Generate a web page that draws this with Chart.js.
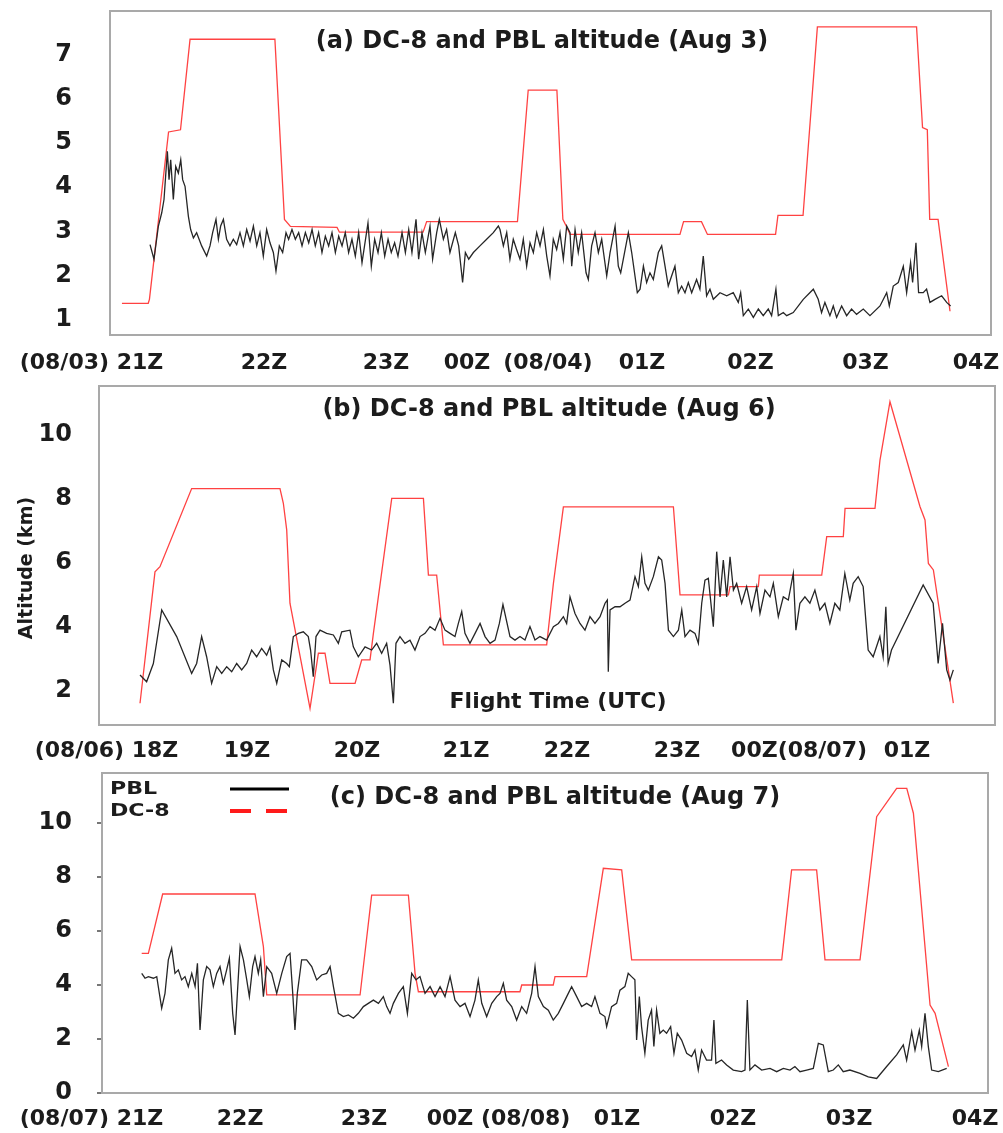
<!DOCTYPE html>
<html><head><meta charset="utf-8">
<script src="https://cdn.jsdelivr.net/npm/chart.js@4.4.0/dist/chart.umd.min.js"></script>
<style>
html,body{margin:0;padding:0;background:#fff;width:1003px;height:1133px;overflow:hidden}
.panel{position:absolute;left:0;width:1003px}
</style></head><body>
<div class="panel" style="top:0;height:380px"><canvas id="ca"></canvas></div>
<div class="panel" style="top:380px;height:385px"><canvas id="cb"></canvas></div>
<div class="panel" style="top:765px;height:368px"><canvas id="cc"></canvas></div>
<script>
// ---------- Panel (a): Aug 3, time in hours after 21Z ----------
const xLabelsA = ["(08/03) 21Z","22Z","23Z","00Z","(08/04)","01Z","02Z","03Z","04Z"];
const xLabelPosA = [-0.515,0.929,1.950,2.628,3.305,4.092,5.000,5.962,6.887];
const yTicksA = [1,2,3,4,5,6,7];
const dc8TimeA = [-0.26,-0.04,-0.03,0.13,0.23,0.31,1.02,1.10,1.15,1.54,1.56,2.26,2.29,3.05,3.14,3.38,3.43,3.46,3.49,4.41,4.44,4.59,4.64,5.21,5.23,5.44,5.56,6.39,6.44,6.48,6.50,6.57,6.67];
const dc8AltA = [1.37,1.37,1.46,5.25,5.30,7.35,7.35,3.27,3.11,3.09,2.98,2.98,3.22,3.22,6.20,6.20,3.27,3.11,2.93,2.93,3.22,3.22,2.93,2.93,3.36,3.36,7.63,7.63,5.35,5.30,3.27,3.27,1.19];
const pblTimeA = [
-0.025,0.008,0.045,0.073,0.092,0.120,0.134,0.148,0.170,0.190,
0.212,0.232,0.248,0.268,0.296,0.315,0.338,0.365,0.407,0.449,
0.477,0.499,0.527,0.547,0.566,0.589,0.616,0.644,0.672,0.700,
0.728,0.756,0.784,0.812,0.840,0.868,0.895,0.923,0.951,0.979,
1.007,1.029,1.057,1.085,1.113,1.135,1.163,1.191,1.219,1.247,
1.275,1.303,1.331,1.358,1.386,1.414,1.442,1.470,1.498,1.526,
1.554,1.582,1.609,1.637,1.665,1.693,1.721,1.749,1.799,1.827,
1.855,1.883,1.911,1.939,1.967,1.994,2.022,2.050,2.084,2.112,
2.140,2.167,2.201,2.223,2.251,2.279,2.318,2.340,2.374,2.396,
2.430,2.457,2.485,2.530,2.558,2.591,2.614,2.642,2.681,2.736,
2.792,2.848,2.890,
2.904,2.932,2.960,2.987,3.015,3.043,3.071,3.099,3.127,3.155,
3.183,3.211,3.239,3.267,3.295,3.322,3.350,3.378,3.406,3.434,
3.462,3.490,3.504,3.532,3.559,3.587,3.624,3.643,3.671,3.699,
3.727,3.755,3.797,3.825,3.867,3.894,3.914,3.978,4.006,4.053,
4.076,4.104,4.131,4.159,4.187,4.229,4.257,4.285,4.312,4.340,
4.368,4.396,4.424,4.452,4.480,4.508,4.549,4.577,4.605,4.633,
4.661,4.689,4.745,4.801,4.856,4.898,4.918,4.940,4.982,5.024,
5.066,5.107,5.149,5.177,5.213,5.233,5.275,5.303,5.358,5.442,
5.526,5.567,5.595,5.623,5.665,5.693,5.721,5.763,5.805,5.846,
5.888,5.944,6.000,6.084,6.140,6.162,6.195,6.237,6.279,6.307,
6.340,6.357,6.385,6.407,6.446,6.474,6.502,6.544,6.600,6.642,
6.675];
const pblAltA = [
2.70,2.37,3.12,3.42,3.72,4.81,4.17,4.62,3.72,4.47,
4.32,4.62,4.17,4.02,3.34,3.04,2.85,2.97,2.67,2.44,
2.67,2.97,3.27,2.82,3.12,3.27,2.82,2.67,2.82,2.70,
2.97,2.67,3.04,2.78,3.12,2.67,2.97,2.44,3.04,2.74,
2.52,2.10,2.67,2.52,2.97,2.82,3.04,2.82,2.97,2.67,
2.97,2.74,3.04,2.67,2.97,2.52,2.89,2.67,2.97,2.52,
2.89,2.67,2.97,2.52,2.82,2.44,2.97,2.29,3.19,2.21,
2.82,2.52,2.97,2.44,2.82,2.52,2.74,2.44,2.97,2.52,
3.04,2.52,3.27,2.37,2.97,2.52,3.12,2.37,2.97,3.27,
2.82,3.04,2.52,2.97,2.67,1.84,2.52,2.37,2.52,2.67,
2.82,2.97,3.12,
3.04,2.67,2.97,2.37,2.82,2.59,2.37,2.82,2.21,2.74,
2.52,2.97,2.67,3.04,2.44,1.99,2.82,2.59,2.97,2.37,
3.12,2.97,2.21,3.04,2.52,2.97,2.06,1.91,2.67,2.97,
2.52,2.82,1.99,2.52,3.12,2.21,2.06,2.97,2.52,1.61,
1.69,2.21,1.84,2.06,1.91,2.52,2.67,2.21,1.76,1.99,
2.21,1.61,1.76,1.61,1.84,1.61,1.91,1.69,2.44,1.54,
1.69,1.46,1.61,1.54,1.61,1.39,1.61,1.09,1.24,1.05,
1.24,1.09,1.24,1.09,1.69,1.09,1.16,1.09,1.16,1.46,
1.69,1.46,1.16,1.39,1.09,1.31,1.05,1.31,1.09,1.24,
1.12,1.24,1.09,1.31,1.61,1.31,1.76,1.84,2.21,1.61,
2.29,1.84,2.74,1.61,1.61,1.69,1.39,1.46,1.54,1.39,
1.31];

// ---------- Panel (b): Aug 6, time in hours after 18Z ----------
const xLabelsB = ["(08/06) 18Z","19Z","20Z","21Z","22Z","23Z","00Z(08/07)","01Z"];
const xLabelPosB = [-0.309,0.986,2.000,3.005,3.935,4.949,6.074,7.069];
const yTicksB = [2,4,6,8,10];
const dc8TimeB = [0,0.138,0.184,0.476,1.290,1.321,1.352,1.382,1.567,1.644,1.705,1.751,1.982,2.043,2.120,2.151,2.320,2.612,2.658,2.734,2.796,3.318,3.748,3.810,3.902,4.916,4.977,5.423,5.438,5.699,5.708,6.283,6.329,6.482,6.498,6.774,6.820,6.912,7.189,7.235,7.266,7.312,7.496];
const dc8AltB = [1.62,5.72,5.88,8.32,8.32,7.86,7.03,4.74,1.46,3.18,3.18,2.24,2.24,2.97,2.97,3.80,8.01,8.01,5.62,5.62,3.44,3.44,3.44,5.36,7.75,7.75,5.00,5.00,5.26,5.26,5.62,5.62,6.82,6.82,7.70,7.70,9.21,11.03,7.75,7.34,5.98,5.78,1.62];
const pblTimeB = [
0,0.061,0.123,0.200,0.338,0.476,0.522,0.568,0.614,0.660,
0.707,0.753,0.799,0.845,0.891,0.937,0.983,1.029,1.075,1.121,
1.167,1.198,1.229,1.260,1.306,1.352,1.376,1.413,1.459,1.505,
1.551,1.572,1.597,1.622,1.659,1.720,1.782,1.828,1.859,1.935,
1.966,2.012,2.074,2.135,2.181,2.227,2.273,2.304,2.335,2.359,
2.396,2.442,2.488,2.534,2.581,2.627,2.673,2.719,2.765,2.811,
2.857,2.903,2.934,2.965,2.995,3.041,3.088,3.134,3.180,3.226,
3.272,3.312,3.345,3.410,3.456,3.502,3.548,3.594,3.640,3.686,
3.748,3.810,3.856,3.902,3.932,3.963,4.009,4.055,4.101,4.147,
4.193,4.240,4.286,4.307,4.316,4.332,4.378,4.424,4.470,4.516,
4.562,4.593,4.624,4.654,4.685,4.731,4.778,4.808,4.839,4.870,
4.916,4.962,4.993,5.023,5.069,5.115,5.146,5.177,5.207,5.238,
5.284,5.315,5.346,5.376,5.407,5.438,5.469,5.499,5.545,5.591,
5.637,5.684,5.714,5.760,5.806,5.837,5.883,5.929,5.975,6.021,
6.045,6.082,6.128,6.174,6.220,6.266,6.312,6.358,6.404,6.450,
6.496,6.542,6.573,6.619,6.665,6.711,6.757,6.819,6.849,6.874,
6.895,6.926,7.218,7.310,7.356,7.396,7.435,7.465,7.496];
const pblAltB = [
2.50,2.29,2.86,4.53,3.70,2.55,2.86,3.70,3.07,2.24,
2.76,2.55,2.76,2.60,2.86,2.66,2.86,3.28,3.07,3.33,
3.12,3.38,2.66,2.24,2.97,2.86,2.76,3.70,3.80,3.85,
3.70,3.28,2.45,3.70,3.90,3.80,3.75,3.49,3.85,3.90,
3.38,3.07,3.38,3.28,3.49,3.18,3.49,2.81,1.62,3.49,
3.70,3.49,3.59,3.28,3.70,3.80,4.01,3.90,4.27,3.90,
3.80,3.70,4.11,4.48,3.80,3.49,3.80,4.11,3.70,3.49,
3.59,4.11,4.70,3.70,3.59,3.70,3.59,4.01,3.59,3.70,
3.59,4.01,4.11,4.32,4.11,4.94,4.42,4.11,3.90,4.32,
4.11,4.32,4.74,4.84,2.60,4.53,4.63,4.63,4.74,4.84,
5.57,5.26,6.19,5.36,5.15,5.57,6.19,6.09,5.36,3.90,
3.70,3.90,4.53,3.70,3.90,3.80,3.49,4.74,5.46,5.52,
4.01,6.35,4.94,6.09,4.94,6.19,5.15,5.36,4.74,5.26,
4.53,5.26,4.42,5.15,4.94,5.36,4.32,4.94,4.84,5.67,
3.90,4.74,4.94,4.74,5.15,4.53,4.74,4.11,4.74,4.53,
5.67,4.84,5.36,5.57,5.26,3.28,3.07,3.70,3.07,4.63,
2.86,3.28,5.31,4.74,2.86,4.11,2.66,2.34,2.66];

// ---------- Panel (c): Aug 7, time in hours after 21Z ----------
const xLabelsC = ["(08/07) 21Z","22Z","23Z","00Z (08/08)","01Z","02Z","03Z","04Z"];
const xLabelPosC = [-0.207,0.998,2.003,3.094,4.055,4.996,5.937,6.959];
const yTicksC = [0,2,4,6,8,10];
const dc8TimeC = [0.200,0.254,0.370,1.119,1.187,1.214,1.971,2.065,2.363,2.417,2.444,3.268,3.282,3.538,3.552,3.809,3.944,4.093,4.174,5.391,5.471,5.674,5.742,6.026,6.161,6.323,6.405,6.459,6.594,6.635,6.743];
const dc8AltC = [5.17,5.17,7.37,7.37,5.42,3.63,3.63,7.33,7.33,4.43,3.75,3.75,4.00,4.00,4.31,4.31,8.32,8.26,4.93,4.93,8.26,8.26,4.93,4.93,10.23,11.28,11.28,10.36,3.26,2.95,0.98];
const pblTimeC = [
0.200,0.227,0.254,0.295,0.322,0.362,0.389,0.416,0.443,0.470,
0.497,0.524,0.551,0.578,0.606,0.633,0.652,0.673,0.700,0.727,
0.754,0.781,0.808,0.835,0.862,0.889,0.911,0.938,0.957,0.976,
0.998,1.025,1.052,1.073,1.100,1.119,1.146,1.165,1.187,1.214,
1.254,1.295,1.336,1.376,1.403,1.425,1.443,1.462,1.497,1.538,
1.579,1.619,1.660,1.700,1.728,1.755,1.795,1.836,1.876,1.917,
1.957,1.998,2.038,2.079,2.120,2.160,2.187,2.214,2.241,2.282,
2.322,2.355,2.390,2.425,2.457,2.498,2.539,2.579,2.620,2.660,
2.701,2.741,2.782,2.822,2.863,2.903,2.930,2.958,2.998,3.039,
3.079,3.106,3.133,3.160,3.201,3.241,3.282,3.322,3.363,3.390,
3.417,3.458,3.498,3.538,3.579,3.620,3.660,3.687,3.728,3.768,
3.809,3.849,3.876,3.917,3.957,3.971,4.011,4.052,4.079,4.119,
4.146,4.173,4.200,4.214,4.236,4.254,4.281,4.308,4.335,4.354,
4.376,4.403,4.430,4.457,4.490,4.517,4.544,4.579,4.620,4.660,
4.687,4.714,4.741,4.781,4.822,4.841,4.857,4.903,4.944,4.998,
5.065,5.093,5.112,5.133,5.174,5.228,5.296,5.350,5.404,5.458,
5.498,5.539,5.593,5.647,5.688,5.728,5.769,5.809,5.850,5.890,
5.944,6.026,6.093,6.161,6.242,6.323,6.377,6.404,6.445,6.472,
6.507,6.526,6.553,6.580,6.607,6.661,6.729];
const pblAltC = [
4.43,4.25,4.31,4.25,4.31,3.14,3.69,4.93,5.36,4.43,
4.56,4.19,4.31,3.94,4.43,3.94,4.80,2.33,4.19,4.68,
4.56,3.94,4.43,4.68,4.06,4.56,4.99,2.95,2.15,3.69,
5.42,4.93,4.19,3.57,4.68,5.05,4.43,4.93,3.57,4.68,
4.43,3.69,4.43,5.05,5.17,3.69,2.33,3.69,4.93,4.93,
4.68,4.19,4.37,4.43,4.68,3.94,2.95,2.83,2.89,2.77,
2.95,3.20,3.32,3.44,3.32,3.57,3.20,2.95,3.32,3.69,
3.94,2.95,4.43,4.19,4.31,3.69,3.94,3.57,3.94,3.57,
4.31,3.44,3.20,3.32,2.83,3.44,4.19,3.32,2.83,3.32,
3.57,3.69,4.06,3.44,3.20,2.70,3.20,2.95,3.69,4.68,
3.57,3.20,3.07,2.70,2.95,3.32,3.69,3.94,3.57,3.20,
3.32,3.20,3.57,2.95,2.83,2.46,3.20,3.32,3.81,3.94,
4.43,4.31,4.19,1.96,3.57,2.46,1.47,2.70,3.07,1.72,
3.07,2.21,2.33,2.21,2.46,1.47,2.21,1.96,1.47,1.35,
1.59,0.85,1.59,1.22,1.22,2.70,1.10,1.22,1.04,0.85,
0.79,0.85,3.44,0.85,1.04,0.85,0.91,0.79,0.91,0.85,
0.98,0.79,0.85,0.91,1.84,1.78,0.79,0.85,1.04,0.79,
0.85,0.73,0.60,0.54,0.98,1.41,1.78,1.22,2.27,1.59,
2.33,1.72,2.95,1.72,0.85,0.79,0.91];

// ---------- drawing ----------
const FONT = "'DejaVu Sans', 'Liberation Sans', sans-serif";
const RED = 'rgba(255,45,45,0.9)';
const BLACK = '#262626';
const pts = (t, v) => t.map((x, i) => ({x: x, y: v[i]}));

const decor = {
  id: 'decor',
  afterDatasetsDraw(chart, args, o) {
    const ctx = chart.ctx, a = chart.chartArea;
    ctx.save();
    ctx.strokeStyle = '#a9a9a9';
    ctx.lineWidth = 2;
    ctx.strokeRect(a.left, a.top, a.right - a.left, a.bottom - a.top);
    ctx.fillStyle = '#1c1c1c';
    ctx.textAlign = 'center';
    ctx.textBaseline = 'middle';
    ctx.font = 'bold 24px ' + FONT;
    ctx.fillText(o.title, o.titleX, o.titleY);
    if (o.xTitle) {
      ctx.font = 'bold 22px ' + FONT;
      ctx.fillText(o.xTitle, o.xTitleX, o.xTitleY);
    }
    if (o.yTitle) {
      ctx.save();
      ctx.translate(o.yTitleX, o.yTitleY);
      ctx.rotate(-Math.PI / 2);
      ctx.font = 'bold 19px ' + FONT;
      ctx.fillText(o.yTitle, 0, 0);
      ctx.restore();
    }
    if (o.legend) {
      const ds = chart.data.datasets;
      ctx.textAlign = 'left';
      ctx.font = 'bold 17px ' + FONT;
      const rows = [{ds: ds[1], y: 25, w: 3, dash: []}, {ds: ds[0], y: 47, w: 4, dash: [21, 15]}];
      rows.forEach(r => {
        ctx.save();
        ctx.translate(110, r.y);
        ctx.scale(1.3, 1);
        ctx.fillStyle = '#1c1c1c';
        ctx.fillText(r.ds.label, 0, 0);
        ctx.restore();
        ctx.beginPath();
        ctx.setLineDash(r.dash);
        ctx.strokeStyle = r.ds.label === 'PBL' ? '#000' : '#ff1a1a';
        ctx.lineWidth = r.w;
        ctx.moveTo(230, r.y - 1);
        ctx.lineTo(289, r.y - 1);
        ctx.stroke();
        ctx.setLineDash([]);
      });
    }
    ctx.restore();
  }
};

function panel(id, p) {
  return new Chart(document.getElementById(id), {
    type: 'line',
    data: {datasets: [
      {label: 'DC-8', data: pts(p.dc8T, p.dc8A), borderColor: RED, borderWidth: 1.3, pointRadius: 0, tension: 0, fill: false, order: 2},
      {label: 'PBL', data: pts(p.pblT, p.pblA), borderColor: BLACK, borderWidth: 1.3, pointRadius: 0, tension: 0, fill: false, order: 1}
    ]},
    options: {
      animation: false, responsive: true, maintainAspectRatio: false,
      layout: {padding: p.pad},
      plugins: {legend: {display: false}, tooltip: {enabled: false}, decor: p.decor},
      scales: {
        x: {
          type: 'linear', min: p.xMin, max: p.xMax,
          grid: {display: false, drawTicks: false}, border: {display: false},
          afterFit: s => { s.height = p.xH; s.paddingLeft = 0; s.paddingRight = 0; },
          afterBuildTicks: s => { s.ticks = p.xPos.map(v => ({value: v})); },
          ticks: {autoSkip: false, maxRotation: 0, minRotation: 0, padding: p.xPad, color: '#1c1c1c',
                  font: {family: FONT, size: 22, weight: 'bold'},
                  callback: (v, i) => p.xLabels[i]}
        },
        y: {
          type: 'linear', min: p.yMin, max: p.yMax,
          grid: p.yGrid, border: {display: false},
          afterFit: s => { s.width = p.yW; s.paddingTop = 0; s.paddingBottom = 0; },
          afterBuildTicks: s => { s.ticks = p.yTicks.map(v => ({value: v})); },
          ticks: {padding: p.yPad, color: '#1c1c1c', font: {family: FONT, size: 24, weight: 'bold'},
                  callback: v => String(v)}
        }
      }
    },
    plugins: [decor]
  });
}

panel('ca', {
  dc8T: dc8TimeA, dc8A: dc8AltA, pblT: pblTimeA, pblA: pblAltA,
  xMin: -0.36, xMax: 7.013, yMin: 0.652, yMax: 7.99,
  xPos: xLabelPosA, xLabels: xLabelsA, yTicks: yTicksA,
  pad: {left: 0, top: 11, right: 12, bottom: 0}, xH: 45, yW: 110, xPad: 15, yPad: 38,
  yGrid: {display: false, drawTicks: false},
  decor: {title: '(a) DC-8 and PBL altitude (Aug 3)', titleX: 542, titleY: 42}
});
panel('cb', {
  dc8T: dc8TimeB, dc8A: dc8AltB, pblT: pblTimeB, pblA: pblAltB,
  xMin: -0.378, xMax: 7.880, yMin: 0.94, yMax: 11.52,
  xPos: xLabelPosB, xLabels: xLabelsB, yTicks: yTicksB,
  pad: {left: 0, top: 6, right: 8, bottom: 0}, xH: 40, yW: 99, xPad: 13, yPad: 27,
  yGrid: {display: false, drawTicks: false},
  decor: {title: '(b) DC-8 and PBL altitude (Aug 6)', titleX: 549, titleY: 30,
          xTitle: 'Flight Time (UTC)', xTitleX: 558, xTitleY: 322,
          yTitle: 'Altitude (km)', yTitleX: 27, yTitleY: 188}
});
panel('cc', {
  dc8T: dc8TimeC, dc8A: dc8AltC, pblT: pblTimeC, pblA: pblAltC,
  xMin: -0.122, xMax: 7.064, yMin: 0, yMax: 11.85,
  xPos: xLabelPosC, xLabels: xLabelsC, yTicks: yTicksC,
  pad: {left: 0, top: 8, right: 15, bottom: 0}, xH: 40, yW: 102, xPad: 13, yPad: 25,
  yGrid: {display: true, drawOnChartArea: false, drawTicks: true, tickLength: 5, color: '#777', lineWidth: 2},
  decor: {title: '(c) DC-8 and PBL altitude (Aug 7)', titleX: 555, titleY: 33, legend: true}
});
</script>
</body></html>
